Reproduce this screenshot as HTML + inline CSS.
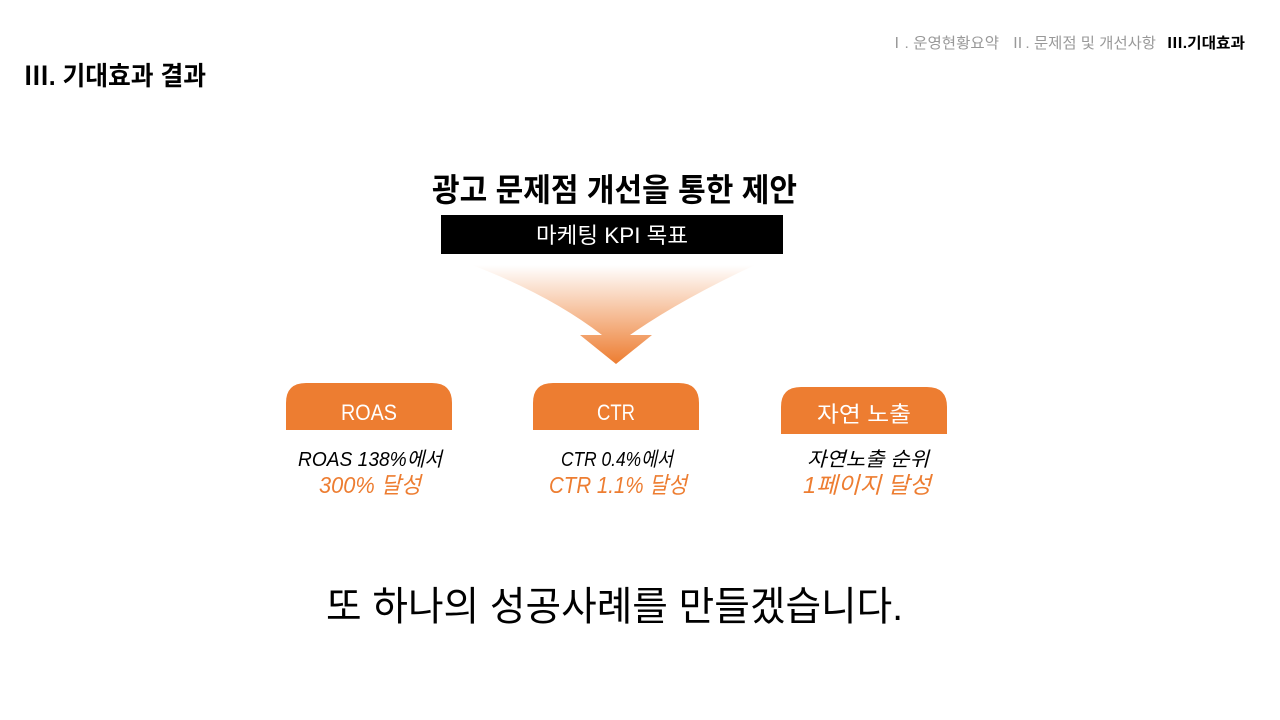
<!DOCTYPE html>
<html><head><meta charset="utf-8"><style>
html,body{margin:0;padding:0;background:#fff;}
svg{display:block;}
text{font-family:"Liberation Sans","Noto Sans CJK KR",sans-serif;}
</style></head><body>
<svg width="1280" height="720" viewBox="0 0 1280 720" xmlns="http://www.w3.org/2000/svg">
<defs>
<linearGradient id="g" x1="0" y1="0" x2="0" y2="1">
<stop offset="0" stop-color="#ED7D31" stop-opacity="0"/>
<stop offset="1" stop-color="#ED7D31" stop-opacity="1"/>
</linearGradient>
</defs>
<text x="889" y="48" font-size="15" fill="#999" textLength="110" lengthAdjust="spacingAndGlyphs">Ⅰ. 운영현황요약</text>
<text x="1010" y="48" font-size="15" fill="#999" textLength="146" lengthAdjust="spacingAndGlyphs">Ⅱ. 문제점 및 개선사항</text>
<text x="1167" y="48" font-size="15" fill="#000" font-weight="bold" textLength="78" lengthAdjust="spacingAndGlyphs">Ⅲ.기대효과</text>
<text x="24" y="85" font-size="26" font-weight="bold" fill="#000" textLength="182" lengthAdjust="spacingAndGlyphs">Ⅲ. 기대효과 결과</text>

<text x="432" y="201" font-size="32" font-weight="bold" fill="#000" textLength="365" lengthAdjust="spacingAndGlyphs">광고 문제점 개선을 통한 제안</text>
<rect x="441" y="215" width="342" height="39" fill="#000"/>
<text x="612" y="243" font-size="22" fill="#fff" text-anchor="middle" textLength="152" lengthAdjust="spacingAndGlyphs">마케팅 KPI 목표</text>

<path d="M472,265 L755,265 Q680,300 630,335 L652,335 L616,364 L580,335 L602,335 Q550,295 472,265 Z" fill="url(#g)"/>

<path d="M286,430 V403 Q286,383 306,383 H432 Q452,383 452,403 V430 Z" fill="#ED7D31"/>
<text x="369" y="420" font-size="22" fill="#fff" text-anchor="middle" textLength="56" lengthAdjust="spacingAndGlyphs">ROAS</text>
<path d="M533,430 V403 Q533,383 553,383 H679 Q699,383 699,403 V430 Z" fill="#ED7D31"/>
<text x="616" y="420" font-size="22" fill="#fff" text-anchor="middle" textLength="38" lengthAdjust="spacingAndGlyphs">CTR</text>
<path d="M781,434 V407 Q781,387 801,387 H927 Q947,387 947,407 V434 Z" fill="#ED7D31"/>
<text x="864" y="422" font-size="22" fill="#fff" text-anchor="middle" textLength="94" lengthAdjust="spacingAndGlyphs">자연 노출</text>

<g font-style="italic" font-size="20">
<text x="370" y="466" text-anchor="middle" fill="#000" textLength="144" lengthAdjust="spacingAndGlyphs">ROAS  138%에서</text>
<text x="370" y="493" text-anchor="middle" fill="#ED7D31" font-size="23" textLength="102" lengthAdjust="spacingAndGlyphs">300% 달성</text>
<text x="617" y="466" text-anchor="middle" fill="#000" textLength="112" lengthAdjust="spacingAndGlyphs">CTR 0.4%에서</text>
<text x="618" y="493" text-anchor="middle" fill="#ED7D31" font-size="23" textLength="138" lengthAdjust="spacingAndGlyphs">CTR 1.1% 달성</text>
<text x="868" y="466" text-anchor="middle" fill="#000" textLength="122" lengthAdjust="spacingAndGlyphs">자연노출 순위</text>
<text x="867" y="493" text-anchor="middle" fill="#ED7D31" font-size="23" textLength="128" lengthAdjust="spacingAndGlyphs">1페이지 달성</text>
</g>

<text x="326" y="620" font-size="40" fill="#000" textLength="577" lengthAdjust="spacingAndGlyphs">또 하나의 성공사례를 만들겠습니다.</text>
</svg>
</body></html>
